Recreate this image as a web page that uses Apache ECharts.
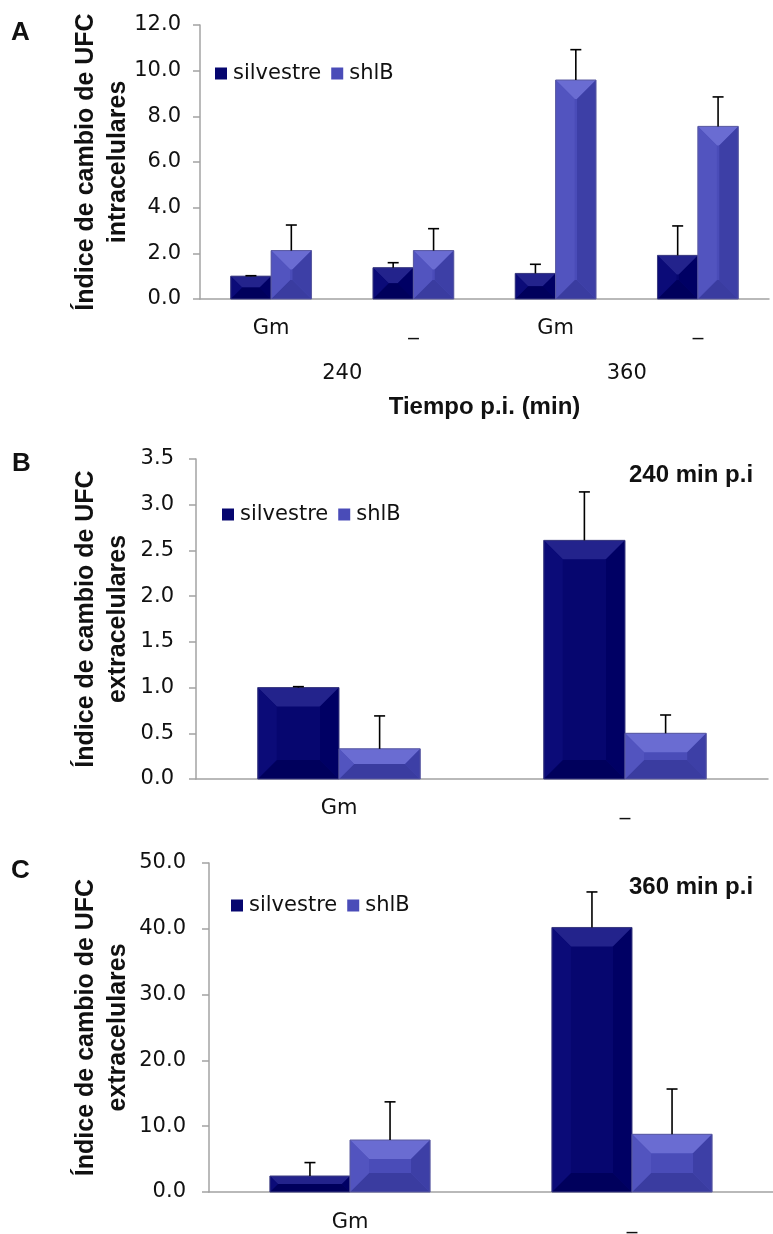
<!DOCTYPE html>
<html>
<head>
<meta charset="utf-8">
<script src="https://cdn.jsdelivr.net/npm/echarts@6/dist/echarts.min.js"></script>
<style>html,body{margin:0;padding:0;background:#fff}#c{width:773px;height:1234px}</style>
</head>
<body>
<div id="c"></div>
<script>
// ---- Data ----
const seriesNames = ['silvestre', 'shlB'];
// Panel A (intracelulares)
const catsA = ['Gm', '_', 'Gm', '_'];
const groupsA = ['240', '360'];
const silA = [1.00, 1.37, 1.12, 1.91];
const errSilA = [0.02, 0.22, 0.40, 1.29];
const shlA = [2.12, 2.12, 9.59, 7.56];
const errShlA = [1.12, 0.96, 1.33, 1.29];
const ticksA = {min: 0, max: 12, interval: 2};
// Panel B (extracelulares, 240 min)
const catsB = ['Gm', '_'];
const silB = [1.00, 2.61];
const errSilB = [0.01, 0.53];
const shlB = [0.33, 0.50];
const errShlB = [0.36, 0.20];
const ticksB = {min: 0, max: 3.5, interval: 0.5};
// Panel C (extracelulares, 360 min)
const catsC = ['Gm', '_'];
const silC = [2.43, 40.2];
const errSilC = [2.04, 5.4];
const shlC = [7.9, 8.77];
const errShlC = [5.8, 6.88];
const ticksC = {min: 0, max: 50, interval: 10};

// ---- Styles ----
const REG = 'DejaVu Sans';
const BOLD = 'Liberation Sans';
const AX = '#a3a3a3';
const darkC = {face: '#06066f', top: '#23238c', left: '#0b0b78', right: '#000064', bottom: '#00005c', stroke: '#3c3c80'};
const lightC = {face: '#4a4cb8', top: '#6a6cd2', left: '#5254bf', right: '#3d3fa6', bottom: '#3a3ca0', stroke: '#5a5aa0'};
const BARFRAC = 0.284;

function barRender(side, col) {
  return function (params, api) {
    const idx = api.value(0), v = api.value(1);
    const band = api.size([1, 0])[0];
    const w = band * BARFRAC;
    const b = api.coord([idx, 0]);
    const t = api.coord([idx, v]);
    const x0 = side < 0 ? b[0] - w : b[0];
    const x1 = x0 + w;
    const y0 = t[1], y1 = b[1];
    const h = y1 - y0;
    const d = Math.min(19, w / 2, h / 2);
    const poly = (pts, fill) => ({type: 'polygon', shape: {points: pts}, style: {fill: fill, stroke: null}, silent: true});
    return {
      type: 'group',
      children: [
        {type: 'rect', shape: {x: x0, y: y0, width: w, height: h}, style: {fill: col.face, stroke: null}},
        poly([[x0, y0], [x1, y0], [x1 - d, y0 + d], [x0 + d, y0 + d]], col.top),
        poly([[x0, y1], [x1, y1], [x1 - d, y1 - d], [x0 + d, y1 - d]], col.bottom),
        poly([[x0, y0], [x0 + d, y0 + d], [x0 + d, y1 - d], [x0, y1]], col.left),
        poly([[x1, y0], [x1 - d, y0 + d], [x1 - d, y1 - d], [x1, y1]], col.right),
        {type: 'rect', shape: {x: x0, y: y0, width: w, height: h}, style: {fill: null, stroke: col.stroke, lineWidth: 1}}
      ]
    };
  };
}
function errRender(side) {
  return function (params, api) {
    const idx = api.value(0), v = api.value(1), e = api.value(2);
    const band = api.size([1, 0])[0];
    const w = band * BARFRAC;
    const b = api.coord([idx, v]);
    const t = api.coord([idx, v + e]);
    const cx = side < 0 ? b[0] - w / 2 : b[0] + w / 2;
    return {
      type: 'group',
      children: [
        {type: 'line', shape: {x1: cx, y1: b[1], x2: cx, y2: t[1]}, style: {stroke: '#000', lineWidth: 1.6}},
        {type: 'line', shape: {x1: cx - 5.5, y1: t[1], x2: cx + 5.5, y2: t[1]}, style: {stroke: '#000', lineWidth: 1.6}}
      ]
    };
  };
}
function mk(vals) { return vals.map((v, i) => [i, v]); }
function mkE(vals, errs) { return vals.map((v, i) => [i, v, errs[i]]); }

function panelSeries(xi, yi, sil, esil, shl, eshl) {
  return [
    {name: seriesNames[0], type: 'custom', xAxisIndex: xi, yAxisIndex: yi, renderItem: barRender(-1, darkC), itemStyle: {color: darkC.face}, data: mk(sil), encode: {x: 0, y: 1}},
    {name: seriesNames[1], type: 'custom', xAxisIndex: xi, yAxisIndex: yi, renderItem: barRender(1, lightC), itemStyle: {color: lightC.face}, data: mk(shl), encode: {x: 0, y: 1}},
    {name: 'err1', type: 'custom', xAxisIndex: xi, yAxisIndex: yi, renderItem: errRender(-1), data: mkE(sil, esil), encode: {x: 0, y: [1, 2]}, z: 5},
    {name: 'err2', type: 'custom', xAxisIndex: xi, yAxisIndex: yi, renderItem: errRender(1), data: mkE(shl, eshl), encode: {x: 0, y: [1, 2]}, z: 5}
  ];
}

const lblReg = {fontFamily: REG, fontSize: 21, color: '#111'};
function yAx(gi, tk, gap, margin, name) {
  return {
    gridIndex: gi, type: 'value', min: tk.min, max: tk.max, interval: tk.interval,
    splitLine: {show: false},
    axisLine: {show: true, lineStyle: {color: AX, width: 1.5}},
    axisTick: {show: true, length: 7, lineStyle: {color: AX, width: 1.5}},
    axisLabel: Object.assign({margin: margin, formatter: v => v.toFixed(1)}, lblReg),
    name: name, nameLocation: 'middle', nameRotate: 90, nameGap: gap, nameMoveOverlap: false,
    nameTextStyle: {fontFamily: BOLD, fontWeight: 'bold', fontSize: 25, color: '#111', lineHeight: 32, align: 'center'}
  };
}
function legend(left, top) {
  return {
    left: left, top: top, data: seriesNames, icon: 'rect', itemWidth: 12, itemHeight: 12, itemGap: 10,
    textStyle: {fontFamily: REG, fontSize: 21, color: '#111', padding: [0, 0, 0, 1]}, padding: 0
  };
}

const option = {
  animation: false,
  backgroundColor: '#fff',
  grid: [
    {left: 200, top: 25, width: 569, height: 274},
    {left: 196, top: 459, width: 572, height: 320},
    {left: 209, top: 863, width: 571, height: 329}
  ],
  legend: [legend(215, 63), legend(222, 504), legend(231, 895)],
  xAxis: [
    {gridIndex: 0, type: 'category', data: catsA, position: 'bottom',
      axisLine: {lineStyle: {color: AX, width: 1.5}},
      axisTick: {length: 44, lineStyle: {color: AX, width: 1.5}},
      axisLabel: Object.assign({margin: 19}, lblReg)},
    {gridIndex: 0, type: 'category', data: groupsA, position: 'bottom',
      axisLine: {show: false},
      axisTick: {length: 89, lineStyle: {color: AX, width: 1.5}},
      axisLabel: Object.assign({margin: 64}, lblReg),
      name: 'Tiempo p.i. (min)', nameLocation: 'middle', nameGap: 96, nameMoveOverlap: false,
      nameTextStyle: {fontFamily: BOLD, fontWeight: 'bold', fontSize: 24, color: '#111'}},
    {gridIndex: 1, type: 'category', data: catsB,
      axisLine: {lineStyle: {color: AX, width: 1.5}},
      axisTick: {length: 6, lineStyle: {color: AX, width: 1.5}},
      axisLabel: Object.assign({margin: 19}, lblReg)},
    {gridIndex: 2, type: 'category', data: catsC,
      axisLine: {lineStyle: {color: AX, width: 1.5}},
      axisTick: {length: 6, lineStyle: {color: AX, width: 1.5}},
      axisLabel: Object.assign({margin: 20}, lblReg)}
  ],
  yAxis: [
    yAx(0, ticksA, 66, 19, 'Índice de cambio de UFC\nintracelulares'),
    yAx(1, ticksB, 62, 22, 'Índice de cambio de UFC\nextracelulares'),
    yAx(2, ticksC, 75, 23, 'Índice de cambio de UFC\nextracelulares')
  ],
  series: [].concat(
    panelSeries(0, 0, silA, errSilA, shlA, errShlA),
    panelSeries(2, 1, silB, errSilB, shlB, errShlB),
    panelSeries(3, 2, silC, errSilC, shlC, errShlC)
  ),
  graphic: [
    {type: 'text', x: 11, y: 33, style: {text: 'A', font: 'bold 26px "Liberation Sans"', fill: '#111', verticalAlign: 'middle'}},
    {type: 'text', x: 12, y: 464, style: {text: 'B', font: 'bold 26px "Liberation Sans"', fill: '#111', verticalAlign: 'middle'}},
    {type: 'text', x: 11, y: 871, style: {text: 'C', font: 'bold 26px "Liberation Sans"', fill: '#111', verticalAlign: 'middle'}},
    {type: 'text', x: 629, y: 475, style: {text: '240 min p.i', font: 'bold 24px "Liberation Sans"', fill: '#111', verticalAlign: 'middle'}},
    {type: 'text', x: 629, y: 887, style: {text: '360 min p.i', font: 'bold 24px "Liberation Sans"', fill: '#111', verticalAlign: 'middle'}}
  ]
};
const chart = echarts.init(document.getElementById('c'), null, {renderer: 'canvas'});
chart.setOption(option);
</script>
</body>
</html>
